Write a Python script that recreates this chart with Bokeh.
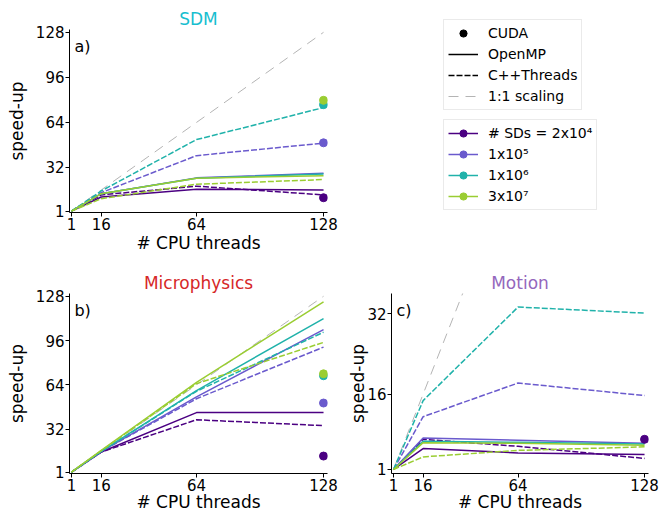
import math
from bokeh.plotting import figure
from bokeh.models import Range1d, FixedTicker, Legend, LegendItem, Label
from bokeh.layouts import column, row
from bokeh.embed import file_html
from bokeh.resources import INLINE

# ---------------- data ----------------
threads = [1, 16, 64, 128]
size_labels = ["# SDs = 2x10\u2074", "1x10\u2075", "1x10\u2076", "3x10\u2077"]
colors = ["#4b0082", "#6a5acd", "#20b2aa", "#9acd32"]

# SDM
sdm_omp_2e4 = [1, 11.0, 16.5, 16.0]
sdm_omp_1e5 = [1, 13.4, 24.6, 27.8]
sdm_omp_1e6 = [1, 13.4, 24.4, 27.3]
sdm_omp_3e7 = [1, 13.4, 24.4, 26.1]
sdm_cpp_2e4 = [1, 12.5, 18.7, 12.5]
sdm_cpp_1e5 = [1, 14.1, 40.4, 49.3]
sdm_cpp_1e6 = [1, 15.3, 51.8, 74.5]
sdm_cpp_3e7 = [1, 9.8, 20.1, 23.4]
sdm_cuda = [10.5, 49.5, 76.6, 79.7]

# Microphysics
mic_omp_2e4 = [1, 15.5, 44.0, 44.0]
mic_omp_1e5 = [1, 16.0, 55.4, 103.9]
mic_omp_1e6 = [1, 16.0, 59.9, 111.9]
mic_omp_3e7 = [1, 16.8, 65.8, 124.0]
mic_cpp_2e4 = [1, 15.5, 38.8, 34.6]
mic_cpp_1e5 = [1, 16.0, 54.0, 91.3]
mic_cpp_1e6 = [1, 16.0, 59.4, 102.0]
mic_cpp_3e7 = [1, 16.5, 64.9, 94.7]
mic_cuda = [12.6, 50.9, 70.6, 72.0]

# Motion
mot_omp_2e4 = [1, 5.15, 4.3, 4.0]
mot_omp_1e5 = [1, 7.25, 6.8, 6.2]
mot_omp_1e6 = [1, 6.6, 6.4, 6.07]
mot_omp_3e7 = [1, 6.33, 6.2, 5.8]
mot_cpp_2e4 = [1, 7.0, 5.6, 3.2]
mot_cpp_1e5 = [1, 11.5, 18.2, 15.7]
mot_cpp_1e6 = [1, 14.7, 33.3, 32.1]
mot_cpp_3e7 = [1, 3.5, 4.8, 5.5]
mot_cuda = [7.0, float("nan"), float("nan"), float("nan")]

xticks = [1, 16, 64, 128]
yticks_ab = [1, 32, 64, 96, 128]
yticks_c = [1, 16, 32]

FONT = "DejaVu Sans"
SOLID_W = 1.5
DASH = "6 2"
SCALE_DASH = "10 7"
SCALE_COLOR = "#b4b4b4"


def style_axes(p, xlab_standoff, ylab_standoff):
    for ax in (p.xaxis[0], p.yaxis[0]):
        ax.axis_line_color = "black"
        ax.axis_line_width = 1
        ax.major_tick_line_color = "black"
        ax.major_tick_out = 4
        ax.major_tick_in = 0
        ax.minor_tick_line_color = None
        ax.major_label_text_font = FONT
        ax.major_label_text_font_size = "15px"
        ax.major_label_text_color = "black"
        ax.major_label_standoff = 1
        ax.axis_label_text_font = FONT
        ax.axis_label_text_font_size = "17px"
        ax.axis_label_text_font_style = "normal"
        ax.axis_label_text_color = "black"
    p.xaxis[0].axis_label_standoff = xlab_standoff
    p.yaxis[0].axis_label_standoff = ylab_standoff
    p.grid.visible = False
    p.outline_line_color = None
    p.background_fill_color = "white"
    p.border_fill_color = "white"


def make_panel(title, tcolor, omp, cpp, cuda, yticks, ylim, letter, letter_y,
               width, height, bl, br, bt, bb, xls, yls):
    p = figure(width=width, height=height, output_backend="svg", toolbar_location=None,
               x_range=Range1d(0, 130), y_range=Range1d(*ylim),
               min_border_left=bl, min_border_right=br, min_border_top=bt, min_border_bottom=bb)
    p.title.text = title
    p.title.text_color = tcolor
    p.title.text_font = FONT
    p.title.text_font_size = "17px"
    p.title.text_font_style = "normal"
    p.title.align = "center"
    p.title.standoff = 2
    p.xaxis.axis_label = "# CPU threads"
    p.yaxis.axis_label = "speed-up"
    p.xaxis.ticker = FixedTicker(ticks=xticks)
    p.yaxis.ticker = FixedTicker(ticks=yticks)
    style_axes(p, xls, yls)
    # 1:1 scaling
    p.line(threads, threads, line_color=SCALE_COLOR, line_width=1, line_dash=SCALE_DASH)
    for i in range(4):
        p.line(threads, omp[i], line_color=colors[i], line_width=SOLID_W)
        p.line(threads, cpp[i], line_color=colors[i], line_width=SOLID_W, line_dash=DASH)
    for i in range(4):
        if not math.isnan(cuda[i]):
            p.scatter([threads[-1]], [cuda[i]], size=8, color=colors[i])
    p.add_layout(Label(x=2.5, y=letter_y, text=letter, text_font=FONT, text_font_size="16px",
                       text_baseline="middle", text_align="left", text_color="black"))
    return p


pa = make_panel("SDM", "#17becf",
                [sdm_omp_2e4, sdm_omp_1e5, sdm_omp_1e6, sdm_omp_3e7],
                [sdm_cpp_2e4, sdm_cpp_1e5, sdm_cpp_1e6, sdm_cpp_3e7],
                sdm_cuda, yticks_ab, (0, 130), "a)", 117.6,
                342, 260, 69, 15, 29, 48, 0, 6)
pb = make_panel("Microphysics", "#d62728",
                [mic_omp_2e4, mic_omp_1e5, mic_omp_1e6, mic_omp_3e7],
                [mic_cpp_2e4, mic_cpp_1e5, mic_cpp_1e6, mic_cpp_3e7],
                mic_cuda, yticks_ab, (0, 130), "b)", 117.7,
                342, 254, 69, 15, 33, 41, -2, 6)
pc = make_panel("Motion", "#9467bd",
                [mot_omp_2e4, mot_omp_1e5, mot_omp_1e6, mot_omp_3e7],
                [mot_cpp_2e4, mot_cpp_1e5, mot_cpp_1e6, mot_cpp_3e7],
                mot_cuda, yticks_c, (0.2, 36), "c)", 32.6,
                320, 254, 49, 14, 33, 41, -2, -4)

# ---------------- legend panel ----------------
pl = figure(width=320, height=260, output_backend="svg", toolbar_location=None,
            x_range=Range1d(-3, -2), y_range=Range1d(-3, -2),
            x_axis_location=None, y_axis_location=None,
            min_border_left=49, min_border_right=14, min_border_top=0, min_border_bottom=0)
pl.grid.visible = False
pl.outline_line_color = None
pl.background_fill_color = "white"
pl.border_fill_color = "white"

# legend proxies: real data, lying outside this panel's visible range
r_cuda = pl.scatter([threads[-1]], [sdm_cuda[0]], size=8, color="black")
r_omp = pl.line(threads, sdm_omp_2e4, line_color="black", line_width=SOLID_W)
r_cpp = pl.line(threads, sdm_cpp_2e4, line_color="black", line_width=SOLID_W, line_dash=DASH)
r_scale = pl.line(threads, threads, line_color=SCALE_COLOR, line_width=1, line_dash=SCALE_DASH)

items1 = [LegendItem(label="CUDA", renderers=[r_cuda]),
          LegendItem(label="OpenMP", renderers=[r_omp]),
          LegendItem(label="C++Threads", renderers=[r_cpp]),
          LegendItem(label="1:1 scaling", renderers=[r_scale])]

sdm_omp_all = [sdm_omp_2e4, sdm_omp_1e5, sdm_omp_1e6, sdm_omp_3e7]
items2 = []
for i in range(4):
    rl = pl.line(threads, sdm_omp_all[i], line_color=colors[i], line_width=SOLID_W)
    rv = pl.scatter([threads[-1]], [sdm_cuda[i]], marker="dash", angle=math.pi / 2, size=8,
                    line_color=colors[i], line_width=1.5)
    rc = pl.scatter([threads[-1]], [sdm_cuda[i]], size=8, color=colors[i])
    items2.append(LegendItem(label=size_labels[i], renderers=[rl, rv, rc]))


def make_legend(items, loc):
    lg = Legend(items=items, location=loc, orientation="vertical")
    lg.label_text_font = FONT
    lg.label_text_font_size = "14px"
    lg.label_text_color = "black"
    lg.glyph_width = 30
    lg.glyph_height = 18
    lg.label_height = 18
    lg.label_standoff = 10
    lg.spacing = 3
    lg.padding = 4
    lg.margin = 0
    lg.border_line_color = "#d6d6d6"
    lg.border_line_width = 1
    lg.background_fill_color = "white"
    lg.background_fill_alpha = 1.0
    return lg


pl.add_layout(make_legend(items1, (52, 150)), "center")
pl.add_layout(make_legend(items2, (52, 50)), "center")

layout = row(column(pa, pb), column(pl, pc))

open("out.html", "w").write(file_html(layout, INLINE))
